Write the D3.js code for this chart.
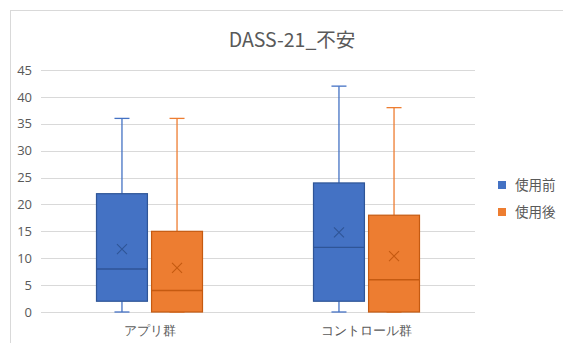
<!DOCTYPE html>
<html><head><meta charset="utf-8">
<script src="https://cdn.jsdelivr.net/npm/d3@7"></script>
<style>
body{margin:0;background:#fff;}
svg{display:block;font-family:"Noto Sans CJK JP","Noto Sans",sans-serif;}
</style></head>
<body>
<script>
const categories = ["アプリ群", "コントロール群"];
const seriesNames = ["使用前", "使用後"];
const seriesColors = ["#4472C4", "#ED7D31"];
const seriesStroke = ["#2F5597", "#C55A11"];
// [min, q1, median, q3, max, mean] per category for each series
const before = [[0, 2, 8, 22, 36, 11.7], [0, 2, 12, 24, 42, 14.8]];
const after = [[0, 0, 4, 15, 36, 8.2], [0, 0, 6, 18, 38, 10.4]];
const yTicks = [0, 5, 10, 15, 20, 25, 30, 35, 40, 45];
const title = "DASS-21_不安";

const W = 563, H = 343;
const svg = d3.select("body").append("svg").attr("width", W).attr("height", H);

// chart frame
svg.append("line").attr("x1", 10).attr("x2", W).attr("y1", 10.5).attr("y2", 10.5).attr("stroke", "#d9d9d9");
svg.append("line").attr("x1", 10.5).attr("x2", 10.5).attr("y1", 10).attr("y2", H).attr("stroke", "#d9d9d9");

const x = d3.scaleBand().domain(categories).range([41, 475]);
const y = d3.scaleLinear().domain([0, 45]).range([312, 70]);
const xs = d3.scaleBand().domain(seriesNames).range([55.5, x.bandwidth() - 55.5]).paddingInner(0.075);

// gridlines
svg.append("g").selectAll("line").data(yTicks).join("line")
  .attr("x1", 41).attr("x2", 475)
  .attr("y1", d => Math.round(y(d)) + 0.5).attr("y2", d => Math.round(y(d)) + 0.5)
  .attr("stroke", "#d9d9d9").attr("stroke-width", 1);

// y axis labels
const yAxis = d3.axisLeft(y).tickValues(yTicks).tickSize(0).tickPadding(9);
const gy = svg.append("g").attr("transform", "translate(41,0)").call(yAxis);
gy.select(".domain").remove();
gy.selectAll("text").attr("fill", "#595959").style("font-size", "13px").style("font-family", "'Open Sans','Noto Sans',sans-serif");

// x axis
const xAxis = d3.axisBottom(x).tickSize(0).tickPadding(14);
const gx = svg.append("g").attr("transform", "translate(0,312)").call(xAxis);
gx.select(".domain").remove();
gx.selectAll("text").attr("fill", "#595959").style("font-size", "13px");

const data = [before, after];
categories.forEach((c, ci) => {
  seriesNames.forEach((s, si) => {
    const [mn, q1, md, q3, mx, mean] = data[si][ci];
    const x0 = x(c) + xs(s), bw = xs.bandwidth(), cx = x0 + bw / 2;
    const g = svg.append("g");
    const col = seriesColors[si], sc = seriesStroke[si];
    // whiskers
    g.append("line").attr("x1", cx).attr("x2", cx).attr("y1", y(mx)).attr("y2", y(q3)).attr("stroke", col).attr("stroke-width", 1.3);
    g.append("line").attr("x1", cx).attr("x2", cx).attr("y1", y(q1)).attr("y2", y(mn)).attr("stroke", col).attr("stroke-width", 1.3);
    g.append("line").attr("x1", cx - 7.5).attr("x2", cx + 7.5).attr("y1", y(mx)).attr("y2", y(mx)).attr("stroke", col).attr("stroke-width", 1.3);
    g.append("line").attr("x1", cx - 7.5).attr("x2", cx + 7.5).attr("y1", y(mn)).attr("y2", y(mn)).attr("stroke", col).attr("stroke-width", 1.3);
    // box
    g.append("rect").attr("x", x0).attr("y", y(q3)).attr("width", bw).attr("height", y(q1) - y(q3))
      .attr("fill", col).attr("stroke", sc).attr("stroke-width", 1.2);
    // median
    g.append("line").attr("x1", x0).attr("x2", x0 + bw).attr("y1", y(md)).attr("y2", y(md)).attr("stroke", sc).attr("stroke-width", 1.3);
    // mean marker
    const my = y(mean), r = 5;
    g.append("path").attr("d", `M${cx - r},${my - r}L${cx + r},${my + r}M${cx - r},${my + r}L${cx + r},${my - r}`)
      .attr("stroke", sc).attr("stroke-width", 1.1).attr("fill", "none");
  });
});

// title
svg.append("text").attr("x", 292).attr("y", 47).attr("text-anchor", "middle")
  .attr("fill", "#595959").style("font-size", "19.5px").text(title);

// legend
const lg = svg.append("g").selectAll("g").data(seriesNames).join("g")
  .attr("transform", (d, i) => `translate(498,${181 + i * 27})`);
lg.append("rect").attr("width", 8).attr("height", 8).attr("fill", (d, i) => seriesColors[i]);
lg.append("text").attr("x", 17).attr("y", 4).attr("dy", "0.35em").attr("fill", "#595959")
  .style("font-size", "13.5px").text(d => d);
</script>
</body></html>
